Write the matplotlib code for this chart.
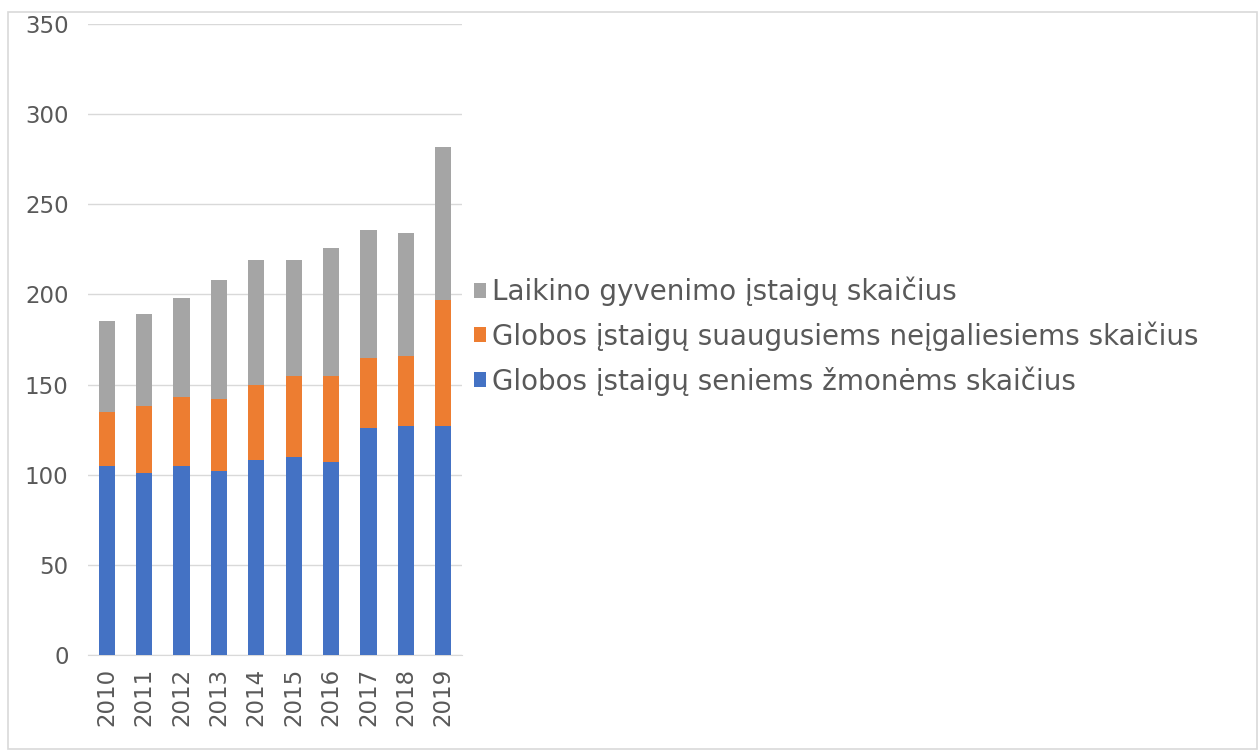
import matplotlib
matplotlib.use("Agg")
import matplotlib.pyplot as plt
from matplotlib.patches import Rectangle
import numpy as np

years = ["2010", "2011", "2012", "2013", "2014", "2015", "2016", "2017", "2018", "2019"]
seniems = [105, 101, 105, 102, 108, 110, 107, 126, 127, 127]
neigaliesiems = [30, 37, 38, 40, 42, 45, 48, 39, 39, 70]
laikino = [50, 51, 55, 66, 69, 64, 71, 71, 68, 85]

labels = [
    "Globos įstaigų seniems žmonėms skaičius",
    "Globos įstaigų suaugusiems neįgaliesiems skaičius",
    "Laikino gyvenimo įstaigų skaičius",
]
colors = ["#4472C4", "#ED7D31", "#A5A5A5"]
text_color = "#595959"

fig = plt.figure(figsize=(12.59, 7.53), dpi=100)
ax = fig.add_axes([88 / 1259, 1 - 655 / 753, (462 - 88) / 1259, (655 - 24) / 753])

x = np.arange(len(years))
bottom = np.zeros(len(years))
handles = []
for vals, col, lab in zip([seniems, neigaliesiems, laikino], colors, labels):
    b = ax.bar(x, vals, width=0.43, bottom=bottom, color=col, label=lab, zorder=3)
    handles.append(b)
    bottom += np.array(vals)

ax.set_ylim(0, 350)
ax.set_xlim(-0.5, 9.5)
ax.set_yticks(np.arange(0, 351, 50))
ax.set_xticks(x)
ax.set_xticklabels(years, rotation=90)
ax.grid(axis="y", color="#D9D9D9", linewidth=1, zorder=0)
ax.tick_params(axis="both", length=0, labelsize=16.5, labelcolor=text_color)
ax.tick_params(axis="y", pad=14)
ax.tick_params(axis="x", pad=9)
for side in ["top", "right", "left"]:
    ax.spines[side].set_visible(False)
ax.spines["bottom"].set_color("#D9D9D9")

leg = fig.legend(handles[::-1], labels[::-1], loc="center left",
                 bbox_to_anchor=(460 / 1259, 1 - 336 / 753), frameon=False,
                 fontsize=20, handlelength=0.45, handleheight=0.45,
                 handletextpad=0.2, labelspacing=0.55, borderpad=0)
for t in leg.get_texts():
    t.set_color(text_color)

# light frame around the whole chart
fig.patches.append(Rectangle((8 / 1259, 4 / 753), 1249 / 1259, 737 / 753,
                             transform=fig.transFigure, fill=False,
                             edgecolor="#D9D9D9", linewidth=1.2))

fig.savefig("out.png", dpi=100)
